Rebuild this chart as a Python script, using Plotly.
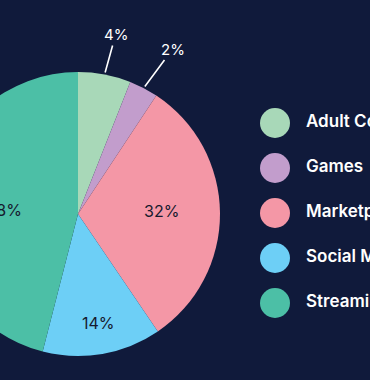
import math
import plotly.graph_objects as go

# ---- data ----
categories = ["Adult Content", "Games", "Marketplace", "Social Media", "Streaming"]
slice_sizes = [6.0, 3.3, 31.2, 13.5, 46.0]          # slice sizes
pct_labels = ["4%", "2%", "32%", "14%", "48%"]      # printed percentage labels
colors = ["#a8d8b8", "#c29dcc", "#f497a6", "#6dcff6", "#4cbfa6"]

# ---- layout geometry (style) ----
W, H = 434, 380          # figure size; shifted left so the window shows x=64..434
SHIFT = 64
BG = "#101a3b"
CX, CY, R = 142, 214, 142   # pie centre / radius in figure pixels
LEG_X = 275 + SHIFT
LEG_Y0, LEG_DY = 123, 45

# label placement style: outside labels -> (ax, ay) pixel offsets; inside -> (radius fraction, angle nudge deg)
outside_offsets = {0: (11, -40), 1: (29, -39)}
inside_place = {2: (0.59, -1.5), 3: (0.78, -1.0), 4: (0.525, -4.5)}

fig = go.Figure()

fig.add_trace(go.Pie(
    labels=categories, values=slice_sizes,
    textinfo="none",
    sort=False, direction="clockwise", rotation=0,
    marker=dict(colors=colors, line=dict(width=0)),
    domain=dict(x=[(CX - R) / W, (CX + R) / W], y=[(H - CY - R) / H, (H - CY + R) / H]),
    showlegend=False, hoverinfo="label+percent",
))

# custom legend with large circles
n = len(categories)
fig.add_trace(go.Scatter(
    x=[LEG_X] * n, y=list(range(n)), mode="markers",
    marker=dict(size=30, color=colors, line=dict(width=0)),
    showlegend=False, hoverinfo="skip", cliponaxis=False,
))
fig.add_trace(go.Scatter(
    x=[LEG_X + 31] * n, y=list(range(n)), mode="text", text=categories,
    textposition="middle right",
    textfont=dict(family="Inter", size=17, color="white", weight=600),
    showlegend=False, hoverinfo="skip", cliponaxis=False,
))

# percentage labels placed from slice angles
total = sum(slice_sizes)
cum = 0.0
for i, v in enumerate(slice_sizes):
    th = 2 * math.pi * (cum + v / 2) / total
    cum += v
    if i in outside_offsets:
        hx = CX + R * math.sin(th)
        hy = CY - R * math.cos(th)
        ax, ay = outside_offsets[i]
        fig.add_annotation(
            x=hx / W, y=1 - hy / H, xref="paper", yref="paper",
            text=pct_labels[i], showarrow=True, arrowhead=0, arrowwidth=1.6,
            arrowcolor="white", ax=ax, ay=ay, standoff=2,
            font=dict(family="Inter", size=15, color="white"),
        )
    else:
        f, nudge = inside_place[i]
        t = th + math.radians(nudge)
        px = CX + f * R * math.sin(t)
        py = CY - f * R * math.cos(t)
        fig.add_annotation(
            x=px / W, y=1 - py / H, xref="paper", yref="paper",
            text=pct_labels[i], showarrow=False, xanchor="center", yanchor="middle",
            font=dict(family="Inter", size=16, color="#161a2e"),
        )

ypx_top = (0 - LEG_Y0) / LEG_DY
ypx_bot = (H - LEG_Y0) / LEG_DY
fig.update_layout(
    width=W, height=H, margin=dict(l=0, r=0, t=0, b=0),
    paper_bgcolor=BG, plot_bgcolor=BG,
    xaxis=dict(range=[0, W], visible=False, fixedrange=True),
    yaxis=dict(range=[ypx_bot, ypx_top], visible=False, fixedrange=True),
)

post = ("document.body.style.margin='0';document.body.style.overflow='hidden';"
        "document.body.style.background='%s';"
        "var d=document.getElementById('{plot_id}');d.style.marginLeft='-%dpx';" % (BG, SHIFT))
fig.write_html("out.html", post_script=post, config={"displayModeBar": False})
